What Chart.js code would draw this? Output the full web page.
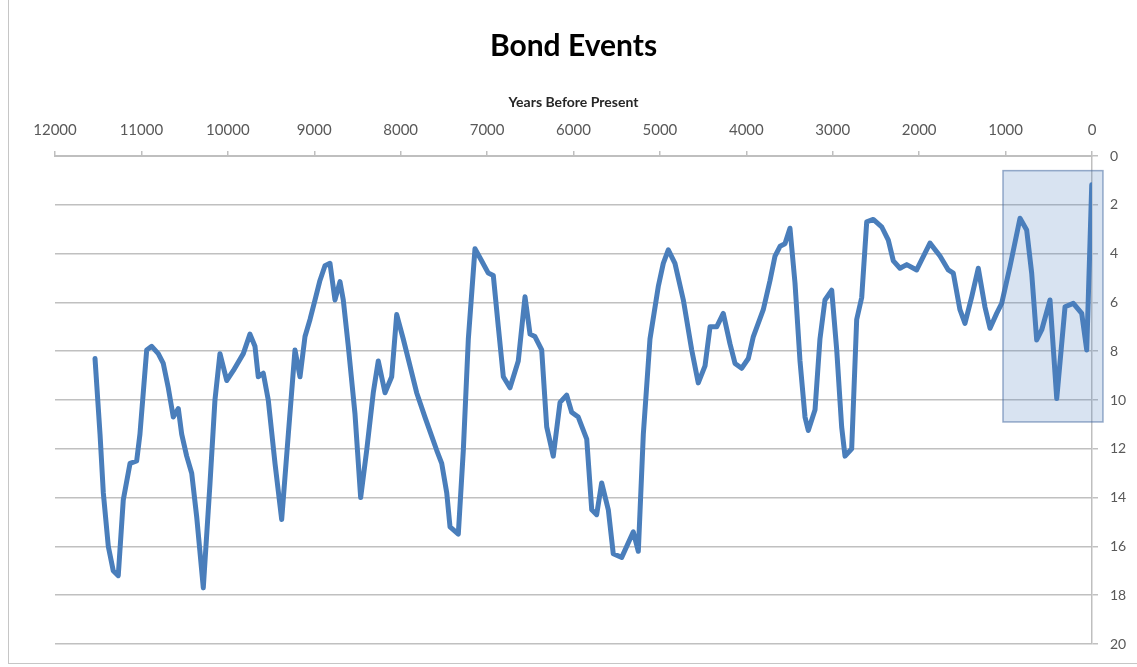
<!DOCTYPE html>
<html><head><meta charset="utf-8">
<script src="https://cdn.jsdelivr.net/npm/chart.js@4.4.0/dist/chart.umd.min.js"></script>
<style>
html,body{margin:0;padding:0;background:#fff;overflow:hidden}
#wrap{position:relative;width:1137px;height:667px}
#frame{position:absolute;left:8px;top:-2px;width:1140px;height:665px;border-left:1px solid #c6c6c6;border-bottom:1px solid #c6c6c6;pointer-events:none}
</style></head><body>
<div id="wrap"><canvas id="c" width="1137" height="667"></canvas><div id="frame"></div></div>
<script>
const years = [11537, 11479, 11441, 11383, 11326, 11268, 11210, 11132, 11055, 11017,
  10939, 10881, 10805, 10747, 10689, 10631, 10573, 10534, 10476, 10418,
  10360, 10284, 10206, 10149, 10091, 10013, 9937, 9821, 9744, 9686,
  9648, 9590, 9532, 9454, 9377, 9300, 9223, 9165, 9107, 9049,
  8991, 8934, 8876, 8818, 8760, 8702, 8664, 8606, 8529, 8463,
  8393, 8317, 8259, 8181, 8104, 8046, 7970, 7892, 7815, 7719,
  7583, 7525, 7467, 7429, 7333, 7275, 7217, 7140, 7062, 6986,
  6928, 6870, 6812, 6735, 6639, 6561, 6503, 6446, 6368, 6310,
  6234, 6156, 6079, 6021, 5945, 5847, 5789, 5732, 5674, 5597,
  5540, 5442, 5308, 5250, 5192, 5115, 5019, 4961, 4903, 4826,
  4729, 4632, 4556, 4478, 4420, 4343, 4267, 4189, 4131, 4054,
  3977, 3919, 3804, 3726, 3668, 3610, 3553, 3495, 3437, 3379,
  3321, 3283, 3205, 3148, 3090, 3012, 2954, 2897, 2858, 2781,
  2723, 2665, 2607, 2531, 2434, 2357, 2299, 2222, 2144, 2029,
  1875, 1759, 1663, 1605, 1528, 1470, 1392, 1316, 1238, 1180,
  1103, 1045, 949, 833, 756, 698, 640, 582, 486, 408,
  312, 216, 119, 61, 3];
const values = [8.3, 11.4, 13.8, 16.0, 17.0, 17.2, 14.1, 12.6, 12.5, 11.4,
  7.95, 7.8, 8.1, 8.5, 9.5, 10.7, 10.35, 11.4, 12.3, 13.0,
  14.8, 17.7, 13.4, 10.0, 8.1, 9.2, 8.8, 8.1, 7.3, 7.8,
  9.05, 8.9, 10.0, 12.6, 14.9, 11.4, 7.95, 9.05, 7.4, 6.7,
  5.9, 5.1, 4.5, 4.4, 5.9, 5.15, 5.9, 7.8, 10.55, 14.0,
  12.06, 9.7, 8.4, 9.7, 9.05, 6.5, 7.5, 8.6, 9.7, 10.7,
  12.06, 12.6, 13.8, 15.2, 15.5, 12.06, 7.5, 3.8, 4.3, 4.8,
  4.9, 7.0, 9.05, 9.5, 8.4, 5.77, 7.3, 7.4, 7.95, 11.1,
  12.3, 10.1, 9.8, 10.5, 10.7, 11.6, 14.5, 14.7, 13.4, 14.5,
  16.3, 16.45, 15.4, 16.2, 11.4, 7.5, 5.35, 4.4, 3.85, 4.4,
  5.9, 7.95, 9.3, 8.6, 7.0, 7.0, 6.45, 7.7, 8.5, 8.7,
  8.3, 7.4, 6.3, 5.1, 4.1, 3.7, 3.6, 2.96, 5.2, 8.4,
  10.7, 11.25, 10.4, 7.5, 5.9, 5.5, 7.95, 11.1, 12.3, 12.0,
  6.7, 5.8, 2.7, 2.6, 2.9, 3.45, 4.3, 4.6, 4.45, 4.67,
  3.57, 4.1, 4.67, 4.8, 6.3, 6.86, 5.77, 4.6, 6.2, 7.06,
  6.45, 6.04, 4.53, 2.55, 3.03, 4.8, 7.54, 7.13, 5.9, 9.94,
  6.18, 6.04, 6.45, 7.95, 1.18];
const xTicks = [12000, 11000, 10000, 9000, 8000, 7000, 6000, 5000, 4000, 3000, 2000, 1000, 0];
const yTicks = [0, 2, 4, 6, 8, 10, 12, 14, 16, 18, 20];
const highlightYears = [1030, -127];
const highlightValues = [0.6, 10.9];

const highlightPlugin = {
  id: 'highlight',
  afterDatasetsDraw(chart) {
    const {ctx, scales: {x, y}} = chart;
    const x1 = x.getPixelForValue(highlightYears[0]);
    const x2 = x.getPixelForValue(highlightYears[1]);
    const y1 = y.getPixelForValue(highlightValues[0]);
    const y2 = y.getPixelForValue(highlightValues[1]);
    ctx.save();
    ctx.fillStyle = 'rgba(79,129,189,0.22)';
    ctx.strokeStyle = 'rgba(70,105,160,0.55)';
    ctx.lineWidth = 1.5;
    ctx.fillRect(Math.min(x1, x2), Math.min(y1, y2), Math.abs(x2 - x1), Math.abs(y2 - y1));
    ctx.strokeRect(Math.min(x1, x2), Math.min(y1, y2), Math.abs(x2 - x1), Math.abs(y2 - y1));
    ctx.restore();
  }
};

const FONT = 'Lato, "Open Sans", sans-serif';
new Chart(document.getElementById('c'), {
  type: 'line',
  data: {
    datasets: [{
      data: years.map((yr, i) => ({x: yr, y: values[i]})),
      borderColor: '#4a7ebb',
      borderWidth: 5,
      pointRadius: 0,
      tension: 0,
      borderJoinStyle: 'round',
      borderCapStyle: 'round',
      fill: false
    }]
  },
  plugins: [highlightPlugin],
  options: {
    responsive: false,
    animation: false,
    devicePixelRatio: 1,
    layout: {padding: {left: 55, right: 0, top: 0, bottom: 23}},
    plugins: {
      legend: {display: false},
      tooltip: {enabled: false},
      title: {
        display: true,
        text: 'Bond Events',
        fullSize: false,
        color: '#000',
        font: {family: FONT, size: 30, weight: 'bold'},
        padding: {top: 28, bottom: 0}
      }
    },
    scales: {
      x: {
        type: 'linear',
        position: 'top',
        reverse: true,
        min: 0,
        max: 12000,
        afterBuildTicks: s => { s.ticks = xTicks.map(v => ({value: v})); },
        afterFit: s => { s.height = 92; },
        grid: {drawOnChartArea: false, drawTicks: true, tickLength: 5, color: '#bfbfbf', lineWidth: 1.5},
        border: {display: true, color: '#bfbfbf', width: 2},
        ticks: {
          color: '#595959',
          font: {family: FONT, size: 15},
          padding: 12,
          maxRotation: 0,
          autoSkip: false,
          callback: v => String(v)
        },
        title: {
          display: true,
          text: 'Years Before Present',
          color: '#262626',
          font: {family: FONT, size: 14, weight: 'bold'},
          padding: {top: 30, bottom: 0}
        }
      },
      y: {
        type: 'linear',
        position: 'right',
        reverse: true,
        min: 0,
        max: 20,
        afterBuildTicks: s => { s.ticks = yTicks.map(v => ({value: v})); },
        afterFit: s => { s.width = 45; },
        grid: {color: '#c0c0c0', lineWidth: 1.5, tickLength: 6},
        border: {display: true, color: '#bfbfbf', width: 1.5},
        ticks: {
          color: '#595959',
          font: {family: FONT, size: 14},
          padding: 12,
          callback: v => String(v)
        }
      }
    }
  }
});
</script>
</body></html>
